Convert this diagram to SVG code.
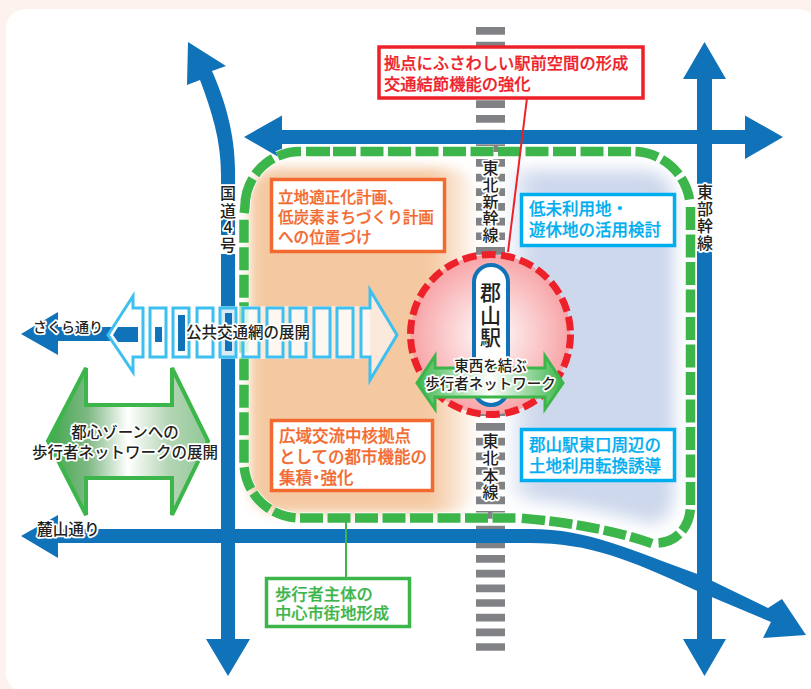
<svg xmlns="http://www.w3.org/2000/svg" width="811" height="689" viewBox="0 0 811 689">
<style>
text{font-family:"Noto Sans CJK JP","Noto Sans",sans-serif;fill:#231f20;font-weight:500}
.road{fill:#1072b9}
.box{fill:#fff;stroke-width:3.5}
.red{stroke:#ed2129}.rt{fill:#ed2129;font-size:16.3px;stroke:#ed2129;stroke-width:.25}
.org{stroke:#f26a30}.ot{fill:#f26a30;font-size:15.6px;stroke:#f26a30;stroke-width:.25}
.cy{stroke:#00aeef}.ct{fill:#00aeef;font-size:16.5px;stroke:#00aeef;stroke-width:.25}
.grn{stroke:#3cb54a}.gt{fill:#3cb54a;font-size:16.3px;stroke:#3cb54a;stroke-width:.25}
.halo{paint-order:stroke;stroke:#fff;stroke-width:3.5px;stroke-linejoin:round}
.vl{font-size:16px;text-anchor:middle}
.seg{fill:#fff;fill-opacity:.62;stroke:#3dbfef;stroke-width:3}
.gz{fill:none}
</style>
<defs>
<filter id="soft" x="-10%" y="-10%" width="120%" height="120%"><feGaussianBlur stdDeviation="6"/></filter>
<filter id="soft2" x="-15%" y="-15%" width="130%" height="130%"><feGaussianBlur stdDeviation="8"/></filter>
<linearGradient id="og" x1="0" x2="1" y1="0" y2="0"><stop offset="0" stop-color="#f4c9a2"/><stop offset=".8" stop-color="#f4c9a2"/><stop offset="1" stop-color="#f4c9a2" stop-opacity=".1"/></linearGradient>
<linearGradient id="bg" x1="0" x2="1" y1="0" y2="0"><stop offset="0" stop-color="#cdd8ec" stop-opacity=".3"/><stop offset=".15" stop-color="#cdd8ec"/><stop offset="1" stop-color="#cdd8ec"/></linearGradient>
<radialGradient id="rg"><stop offset="0" stop-color="#fff"/><stop offset="1" stop-color="#f7a3a6"/></radialGradient>
<linearGradient id="gbig" x1="0" x2="1" y1="0" y2="0"><stop offset="0" stop-color="#3ea84a"/><stop offset=".25" stop-color="#7fb884"/><stop offset=".5" stop-color="#fff"/><stop offset=".75" stop-color="#b5d6b5"/><stop offset="1" stop-color="#8fc796"/></linearGradient>
<linearGradient id="gsm" x1="0" x2="1" y1="0" y2="0"><stop offset="0" stop-color="#3cb54a"/><stop offset=".5" stop-color="#fff"/><stop offset="1" stop-color="#3cb54a"/></linearGradient>
<g id="gzp" class="gz">
<path stroke-dasharray="24 5 24 5 24 5 36 5" d="M330 151.500H300A55 55 0 0 0 245 206.500L244 214"/>
<path stroke-dasharray="23 4.500" d="M333 151.500H633A57.500 57.500 0 0 1 690 203"/>
<path stroke-dasharray="23 4.500" d="M690.500 207V507C690 525 678 543 656 543"/>
<path stroke-dasharray="23 4.500" d="M652 543.500Q600 525 520 518"/>
<path stroke-dasharray="23 4.500" d="M515.500 518H300A56 56 0 0 1 244 462V218"/>
</g>
</defs>
<rect width="811" height="689" fill="#fdf2ee"/>
<rect x="6" y="9" width="812" height="684" rx="20" fill="#fff"/>
<g id="zones">
<rect x="250" y="168" width="226" height="345" rx="28" fill="url(#og)" filter="url(#soft)"/>
<path d="M510 170H640Q674 170 674 205V490Q674 522 650 524Q590 506 510 497Z" fill="url(#bg)" filter="url(#soft2)"/>
</g>
<g id="connectors">
<line id="rail" x1="490.5" y1="27" x2="490.5" y2="651" stroke="#808285" stroke-width="29" stroke-dasharray="7.7 6.97"/>
<g id="roads">
<path class="road" d="M244 137L282 115.500V130H745V115.500L783 137L745 159V144H282V159Z"/>
<path class="road" d="M704.500 42L726 79H712V639H726L704.500 676L683 639H697V79H683Z"/>
<path class="road" d="M188 42L226 66L212 71C225 100 235 135 235 170V639H250L228 676L206 639H221V175C221 140 212 112 200 80L187 85Z"/>
<path class="road" d="M21 536L58 515V529H530C590 529 630 550 700 575L768 608L782 599L806 635L763 638L771 622L695 590C630 560 590 543 530 543H58V558Z"/>
<path class="road" d="M21 334L58 312V327H112V341H58V355Z"/>
</g>
<use id="green-zone-edge" href="#gzp" stroke="#fff" stroke-width="11"/>
<use id="green-zone" href="#gzp" stroke="#3cb54a" stroke-width="9.500"/>
<line x1="346" y1="522" x2="346" y2="577" stroke="#3cb54a" stroke-width="2"/>
</g>
<g id="label-lines">
<rect x="220" y="185" width="16" height="33" fill="#fff"/><rect x="220" y="235" width="16" height="19" fill="#fff"/>
<rect x="696" y="184" width="17" height="67" fill="#fff"/>
<text class="vl halo" x="228 228 228 228" y="199 217 233 251">国道4号</text>
<text class="vl halo" x="490.500 490.500 490.500 490.500 490.500" y="174 191 208 224 241">東北新幹線</text>
<text class="vl halo" x="490.500 490.500 490.500 490.500" y="447 464 482 498">東北本線</text>
<text class="vl halo" x="705 705 705 705" y="198 215 232 249">東部幹線</text>
</g>
<g id="transit-arrow">
<rect x="133" y="306" width="237" height="53" fill="#fff" fill-opacity=".6"/>
<path class="seg" d="M108 335L133 296V308H143V357H133V372Z" style="fill-opacity:1"/>
<path class="road" d="M113 335L118 327H138V342H118Z"/>
<path class="seg" d="M397 335L370 290V308H361V357H370V380Z"/>
<rect class="seg" x="150" y="308" width="16" height="49"/>
<rect class="seg" x="173" y="308" width="16" height="49"/>
<rect class="seg" x="197" y="308" width="16" height="49"/>
<rect class="seg" x="220" y="308" width="16" height="49"/>
<rect class="seg" x="243" y="308" width="16" height="49"/>
<rect class="seg" x="267" y="308" width="16" height="49"/>
<rect class="seg" x="290" y="308" width="16" height="49"/>
<rect class="seg" x="314" y="308" width="16" height="49"/>
<rect class="seg" x="337" y="308" width="16" height="49"/>
<rect class="road" x="155" y="327" width="7" height="15"/>
<rect class="road" x="178" y="315" width="7" height="36"/>
<rect class="road" x="225" y="313" width="7" height="38"/>
<text class="halo" x="186" y="338" font-size="15.500">公共交通網の展開</text>
</g>
<g id="sakura-label"><text class="halo" x="33" y="332" font-size="14">さくら通り</text></g>
<g id="fumoto-label"><text class="halo" x="37" y="535" font-size="15.700">麓山通り</text></g>
<g id="pedestrian-zone">
<path d="M48 441L86 368V405H172V368L208 441L172 515V478H86V515Z" fill="url(#gbig)" stroke="#3cb54a" stroke-width="4"/>
<text class="halo" x="125" y="438" font-size="15.500" text-anchor="middle">都心ゾーンへの</text>
<text class="halo" x="125" y="458" font-size="15.500" text-anchor="middle">歩行者ネットワークの展開</text>
</g>
<g id="station">
<circle cx="490.500" cy="334.500" r="80" fill="url(#rg)" stroke="#ed2129" stroke-width="7" stroke-dasharray="14 5.350"/>
<rect x="474" y="265" width="34" height="140" rx="17" fill="#fff" stroke="#1072b9" stroke-width="4"/>
<text x="490.500 490.500 490.500" y="300 323 345" font-size="21" text-anchor="middle">郡山駅</text>
<path d="M417 383L435 356V368H545V356L563 383L545 409V397H435V409Z" fill="url(#gsm)" stroke="#3cb54a" stroke-width="3"/>
<text class="halo" x="490.500" y="371" font-size="14.500" text-anchor="middle">東西を結ぶ</text>
<text class="halo" x="490.500" y="389" font-size="14.500" text-anchor="middle">歩行者ネットワーク</text>
</g>
<g id="note-station">
<line x1="527" y1="98" x2="508" y2="252" stroke="#ed2129" stroke-width="2"/>
<rect class="box red" x="379" y="47" width="264" height="51"/>
<text class="rt" x="384" y="69">拠点にふさわしい駅前空間の形成</text>
<text class="rt" x="384" y="90">交通結節機能の強化</text>
</g>
<g id="note-plan">
<rect class="box org" x="271.500" y="179.500" width="173" height="72"/>
<text class="ot" x="278" y="203">立地適正化計画、</text>
<text class="ot" x="278" y="223">低炭素まちづくり計画</text>
<text class="ot" x="278" y="243">への位置づけ</text>
</g>
<g id="note-core">
<rect class="box org" x="271.500" y="420.500" width="161" height="70"/>
<text class="ot" x="279" y="442" style="font-size:16.500px">広域交流中核拠点</text>
<text class="ot" x="279" y="463" style="font-size:16.500px">としての都市機能の</text>
<text class="ot" x="279" y="484" style="font-size:16.500px">集積<tspan dx="-4">・</tspan><tspan dx="-4">強化</tspan></text>
</g>
<g id="note-land">
<rect class="box cy" x="521.500" y="194.500" width="153" height="51"/>
<text class="ct" x="529" y="215">低未利用地・</text>
<text class="ct" x="529" y="236">遊休地の活用検討</text>
</g>
<g id="note-east">
<rect class="box cy" x="521.500" y="429.500" width="153" height="51"/>
<text class="ct" x="529" y="451">郡山駅東口周辺の</text>
<text class="ct" x="529" y="472">土地利用転換誘導</text>
</g>
<g id="note-walk">
<rect class="box grn" x="266.500" y="578.500" width="143" height="48"/>
<text class="gt" x="275" y="600">歩行者主体の</text>
<text class="gt" x="275" y="619">中心市街地形成</text>
</g>
</svg>
